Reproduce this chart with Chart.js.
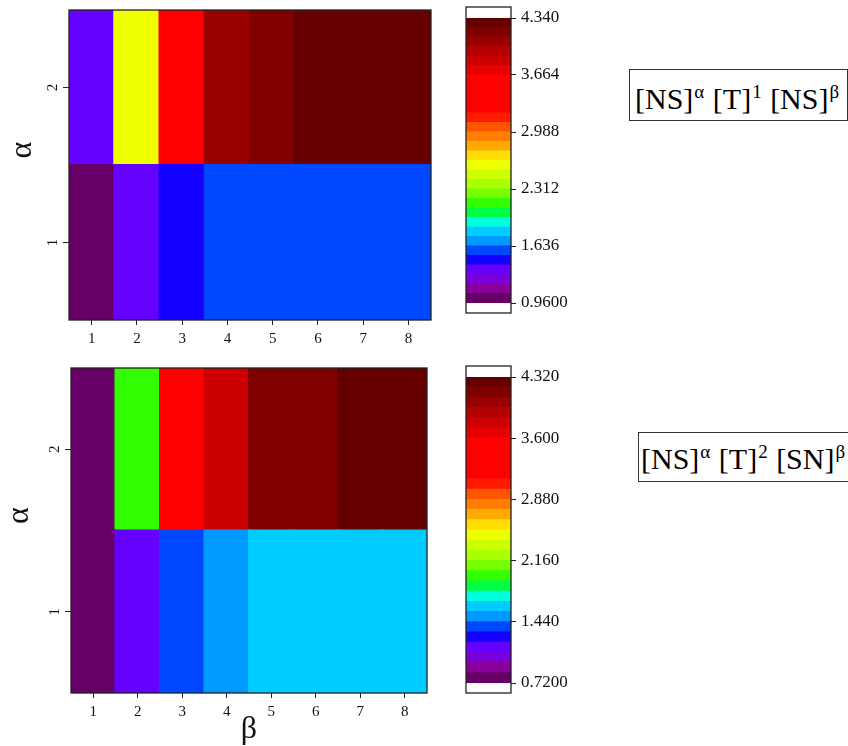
<!DOCTYPE html>
<html lang="en">
<head>
  <meta charset="UTF-8">
  <title>Heatmaps</title>
  <script src="https://cdn.jsdelivr.net/npm/chart.js"></script>
  <style>
    body { margin: 0; background: #fff; width: 848px; height: 746px; position: relative; overflow: hidden; font-family: "Liberation Serif", serif; }
    canvas { position: absolute; }
    .key { position: absolute; box-sizing: border-box; border: 1px solid #333; font-size: 30px; line-height: 30px; white-space: nowrap; color: #000; overflow: hidden; }
    .key sup { font-size: 19px; line-height: 0; margin: 0 1px 0 1px; }
  </style>
</head>
<body>
  <canvas id="heat1" width="440" height="350" style="left:0;top:0"></canvas>
  <canvas id="bar1" width="150" height="330" style="left:440px;top:0"></canvas>
  <canvas id="heat2" width="440" height="396" style="left:0;top:350px"></canvas>
  <canvas id="bar2" width="150" height="396" style="left:440px;top:350px"></canvas>

  <div class="key" style="left:629px;top:69px;width:219px;height:52px;padding:14px 0 0 5px">[NS]<sup>α</sup> [T]<sup>1</sup> [NS]<sup>β</sup></div>
  <div class="key" style="left:638px;top:432px;width:240px;height:50px;padding:11px 0 0 2px">[NS]<sup>α</sup> [T]<sup>2</sup> [SN]<sup>β</sup></div>

  <script>
    // x categories (beta) and y levels (alpha)
    const betaLabels = ['1', '2', '3', '4', '5', '6', '7', '8'];
    const alphaLevels = [1, 2];

    // panel 1: [NS]^a [T]^1 [NS]^b
    const p1Alpha1 = [0.96, 1.33, 1.46, 1.58, 1.58, 1.58, 1.58, 1.58];
    const p1Alpha2 = [1.35, 2.60, 3.30, 4.05, 4.18, 4.30, 4.32, 4.34];
    const p1Range = [0.96, 4.34];
    const p1Ticks = [0.96, 1.636, 2.312, 2.988, 3.664, 4.34];
    const p1TickLabels = ['0.9600', '1.636', '2.312', '2.988', '3.664', '4.340'];

    // panel 2: [NS]^a [T]^2 [SN]^b
    const p2Alpha1 = [0.78, 1.15, 1.40, 1.52, 1.64, 1.65, 1.66, 1.66];
    const p2Alpha2 = [0.72, 1.98, 3.25, 3.80, 4.12, 4.15, 4.28, 4.32];
    const p2Range = [0.72, 4.32];
    const p2Ticks = [0.72, 1.44, 2.16, 2.88, 3.60, 4.32];
    const p2TickLabels = ['0.7200', '1.440', '2.160', '2.880', '3.600', '4.320'];

    // 30 colour levels, low to high
    const palette = [
      '#660066', '#880099', '#7700DD', '#6600FF', '#1400FF', '#0048FF',
      '#0099FF', '#00CCFF', '#00FFDD', '#00FF44', '#33FF00', '#77FF00',
      '#AAFF00', '#CCFF00', '#EEFF00', '#FFDD00', '#FFAA00', '#FF8000',
      '#FF5500', '#FF1A00', '#FF0000', '#FF0000', '#FF0000', '#FF0000',
      '#E60000', '#CC0000', '#B30000', '#990000', '#800000', '#660000'
    ];

    const serif = 'Liberation Serif';
    const ink = '#111';

    function colourOf(v, range) {
      const n = palette.length;
      const i = Math.floor((v - range[0]) / (range[1] - range[0]) * n);
      return palette[Math.max(0, Math.min(n - 1, i))];
    }

    // box round the plot area (colour bars get white ends)
    const frame = {
      id: 'frame',
      afterDraw(chart, args, o) {
        const { ctx, chartArea: a } = chart;
        const up = o.up || 0, down = o.down || 0;
        ctx.save();
        ctx.strokeStyle = '#222';
        ctx.lineWidth = 1.3;
        ctx.strokeRect(a.left, a.top - up, a.right - a.left, a.bottom - a.top + up + down);
        ctx.restore();
      }
    };

    // rotated alpha tick labels and axis titles, R style
    const axisText = {
      id: 'axisText',
      afterDraw(chart, args, o) {
        const { ctx, chartArea: a, scales } = chart;
        ctx.save();
        ctx.fillStyle = ink;
        ctx.font = `15px "${serif}"`;
        ctx.textAlign = 'center';
        scales.y.ticks.forEach(t => {
          ctx.save();
          ctx.translate(a.left - 12, scales.y.getPixelForValue(t.value));
          ctx.rotate(-Math.PI / 2);
          ctx.textBaseline = 'alphabetic';
          ctx.fillText(String(t.value), 0, 0);
          ctx.restore();
        });
        ctx.font = `32px "${serif}"`;
        ctx.textBaseline = 'middle';
        ctx.save();
        ctx.translate(a.left - o.yGap, (a.top + a.bottom) / 2 - 15);
        ctx.rotate(-Math.PI / 2);
        ctx.fillText('α', 0, 0);
        ctx.restore();
        if (o.xTitle) {
          ctx.fillText(o.xTitle, (a.left + a.right) / 2, a.bottom + 37);
        }
        ctx.restore();
      }
    };

    function heatmap(id, rows, range, pad, yWidth, xHeight, textOpts) {
      return new Chart(document.getElementById(id), {
        type: 'bar',
        data: {
          labels: betaLabels,
          datasets: rows.map((vals, r) => ({
            data: vals.map(() => [alphaLevels[r] - 0.5, alphaLevels[r] + 0.5]),
            backgroundColor: vals.map(v => colourOf(v, range)),
            barPercentage: 1,
            categoryPercentage: 1,
            borderWidth: 0,
            inflateAmount: 1
          }))
        },
        options: {
          responsive: false,
          animation: false,
          layout: { padding: pad },
          plugins: { legend: { display: false }, tooltip: { enabled: false }, frame: {}, axisText: textOpts },
          scales: {
            x: {
              stacked: true,
              offset: true,
              border: { display: false },
              grid: { offset: false, drawOnChartArea: false, tickLength: 5, tickColor: '#222', tickWidth: 1 },
              ticks: { color: ink, font: { family: serif, size: 15 }, padding: 5, maxRotation: 0 },
              afterFit: s => { s.height = xHeight; }
            },
            y: {
              type: 'linear',
              min: alphaLevels[0] - 0.5,
              max: alphaLevels[alphaLevels.length - 1] + 0.5,
              border: { display: false },
              grid: { drawOnChartArea: false, tickLength: 6, tickColor: '#222', tickWidth: 1 },
              ticks: { display: false },
              afterBuildTicks: s => { s.ticks = alphaLevels.map(v => ({ value: v })); },
              afterFit: s => { s.width = yWidth; }
            }
          }
        },
        plugins: [frame, axisText]
      });
    }

    function colourBar(id, range, tickVals, tickLabels, pad) {
      const n = palette.length;
      const step = (range[1] - range[0]) / n;
      return new Chart(document.getElementById(id), {
        type: 'bar',
        data: {
          labels: [''],
          datasets: palette.map((c, i) => ({
            data: [[range[0] + i * step, range[0] + (i + 1) * step]],
            backgroundColor: c,
            barPercentage: 1,
            categoryPercentage: 1,
            borderWidth: 0,
            inflateAmount: 0.5
          }))
        },
        options: {
          responsive: false,
          animation: false,
          layout: { padding: pad },
          plugins: { legend: { display: false }, tooltip: { enabled: false }, frame: { up: 11, down: 10 } },
          scales: {
            x: { stacked: true, display: false },
            y: {
              position: 'right',
              min: range[0],
              max: range[1],
              border: { display: false },
              grid: { drawOnChartArea: false, tickLength: 5, tickColor: '#222' },
              ticks: {
                color: ink,
                font: { family: serif, size: 17 },
                padding: 5,
                callback: (v, i) => tickLabels[i]
              },
              afterBuildTicks: s => { s.ticks = tickVals.map(v => ({ value: v })); },
              afterFit: s => { s.width = 79; }
            }
          }
        },
        plugins: [frame]
      });
    }

    heatmap('heat1', [p1Alpha1, p1Alpha2], p1Range, { left: 0, top: 10, right: 9, bottom: 0 }, 69, 30, { yGap: 46 });
    heatmap('heat2', [p2Alpha1, p2Alpha2], p2Range, { left: 0, top: 18, right: 13, bottom: 0 }, 71, 53, { yGap: 51, xTitle: 'β' });
    colourBar('bar1', p1Range, p1Ticks, p1TickLabels, { left: 26, top: 18, right: 0, bottom: 27 });
    colourBar('bar2', p2Range, p2Ticks, p2TickLabels, { left: 26, top: 27, right: 0, bottom: 63 });
  </script>
</body>
</html>
